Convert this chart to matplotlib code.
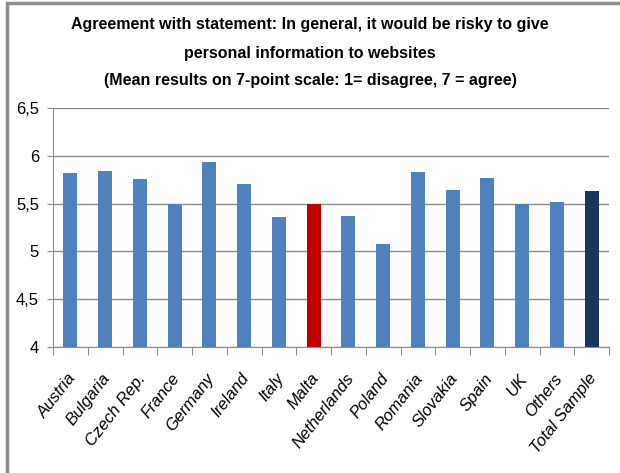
import matplotlib.pyplot as plt
from matplotlib.patches import Rectangle

plt.rcParams['font.family'] = ['Liberation Sans', 'DejaVu Sans']

# values
countries = ['Austria', 'Bulgaria', 'Czech Rep.', 'France', 'Germany', 'Ireland', 'Italy',
             'Malta', 'Netherlands', 'Poland', 'Romania', 'Slovakia', 'Spain', 'UK',
             'Others', 'Total Sample']
means = [5.82, 5.84, 5.76, 5.50, 5.94, 5.71, 5.36, 5.50, 5.37, 5.08, 5.83, 5.64,
         5.77, 5.50, 5.52, 5.63]
yticks = [4, 4.5, 5, 5.5, 6, 6.5]
ytick_labels = ['4', '4,5', '5', '5,5', '6', '6,5']

colors = ['#4F81BD'] * len(countries)
colors[countries.index('Malta')] = '#C00000'
colors[countries.index('Total Sample')] = '#1B365D'

fig = plt.figure(figsize=(6.2, 4.73), dpi=100)
ax = fig.add_axes([53 / 620, 1 - 347 / 473, 556 / 620, 239 / 473])

x = range(len(countries))
ax.bar(x, [m - 4 for m in means], bottom=4, width=0.41, color=colors, zorder=3)

ax.set_ylim(4, 6.5)
ax.set_xlim(-0.5, len(countries) - 0.5)
ax.set_yticks(yticks)
ax.set_yticklabels(ytick_labels, fontsize=12)
ax.yaxis.grid(True, color='#8C8C8C', linewidth=1)
ax.set_axisbelow(True)

ax.set_xticks([i - 0.5 for i in range(len(countries) + 1)])
ax.set_xticklabels([])
ax.tick_params(axis='x', length=6, color='#8C8C8C', direction='out')
ax.tick_params(axis='y', length=4, color='#8C8C8C', direction='out', pad=6)
for i, name in enumerate(countries):
    ax.text(i - 0.1, 3.75, name, rotation=52, ha='right', va='top',
            rotation_mode='anchor', fontsize=12, style='italic')

for s in ['top', 'right']:
    ax.spines[s].set_visible(False)
ax.spines['left'].set_color('#8C8C8C')
ax.spines['bottom'].set_color('#8C8C8C')

title_lines = ['Agreement with statement: In general, it would be risky to give',
               'personal information to websites',
               '(Mean results on 7-point scale: 1= disagree, 7 = agree)']
for line, ypix in zip(title_lines, [25, 53, 80]):
    fig.text(0.5, 1 - ypix / 473, line, ha='center', va='center',
             fontsize=11.5, fontweight='bold')

fig.patches.append(Rectangle((7 / 620, -0.1), 1.2, 1 - 3 / 473 + 0.1, transform=fig.transFigure,
                             fill=False, edgecolor='#8C8C8C', linewidth=2.5))

fig.savefig('out.png', dpi=100)
